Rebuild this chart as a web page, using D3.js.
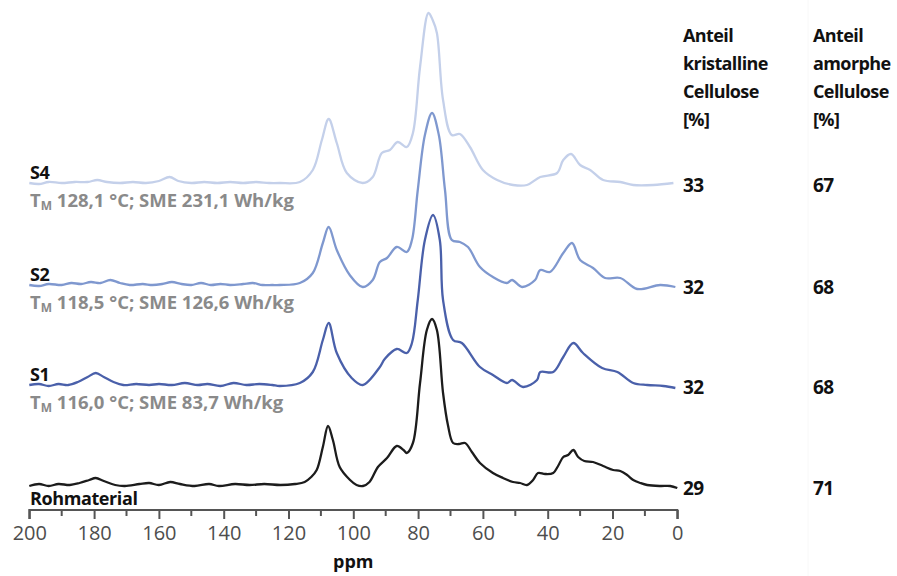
<!DOCTYPE html>
<html><head><meta charset="utf-8">
<script src="https://cdn.jsdelivr.net/npm/d3@7"></script>
<style>
html,body{margin:0;padding:0;background:#fff;}
svg{display:block;}
text{font-family:"Open Sans","Noto Sans",sans-serif;}
</style></head>
<body>
<svg id="chart" width="897" height="576"></svg>
<script>
// ---- data ----
const seriesNames = ["Rohmaterial", "S1", "S2", "S4"];
const seriesNotes = ["", "116,0 °C; SME 83,7 Wh/kg", "118,5 °C; SME 126,6 Wh/kg", "128,1 °C; SME 231,1 Wh/kg"];
const seriesOffsets = [0, 101, 201, 303];
const crystalline = [29, 32, 32, 33];
const amorphous = [71, 68, 68, 67];
const xTicks = [200, 180, 160, 140, 120, 100, 80, 60, 40, 20, 0];
const headerCryst = ["Anteil", "kristalline", "Cellulose", "[%]"];
const headerAmorph = ["Anteil", "amorphe", "Cellulose", "[%]"];

const specRoh = [[200,1],[197,3],[194,1],[191,3],[187.5,2],[184.5,4],[181.5,7],[179.5,9],[177,6],[173.5,2],[170.5,1],[166,3],[163,4],[160,2],[156.5,5],[153.5,3],[149,1],[144.5,3],[141.5,1],[136.5,3],[132,2],[127.5,3],[122.5,2],[118,3],[115,5],[113,10],[111.3,17],[109.4,40],[107.8,61],[106.3,47],[104.2,20],[101,7],[99,2],[97,1],[95,5],[92.4,20],[89.6,29],[86.6,41],[84.5,37],[83.5,34],[81.6,44],[79.4,104],[77.3,157],[75.7,168],[74.2,157],[72.3,94],[70.8,62],[69.2,44],[67.4,43],[65.5,44],[63.4,35],[60.9,24],[56.9,14],[53.8,9],[50.7,5],[48.5,4],[46.4,2],[44.5,7],[43,14],[40.8,13],[38.3,14],[36.8,21],[35.2,30],[33.7,32],[32.1,37],[30.6,30],[28.7,26],[26,25],[22.9,21],[19.8,17],[17.6,16],[15.5,12],[13.6,7],[11.4,4],[9.3,2],[5.3,1],[2.2,1],[0,-1]];
const specS1 = [[200,1],[197,2],[194,0],[191,2],[188,1],[185,4],[182,9],[179.5,13],[177,9],[174,4],[171,1],[167,2],[163,1],[160,2],[156,1],[152,3],[148,1],[145,2],[141,0],[137,3],[133,1],[129,2],[125,1],[122.7,0],[116.5,3],[112.5,14],[109.4,46],[107.6,63],[105.1,33],[100.5,8],[97.1,1],[91.8,19],[90.3,27],[86.6,37],[83.5,33],[81.9,43],[80.1,86],[77.9,146],[75.4,171],[73.3,146],[72.3,86],[69.2,46],[66.5,43],[60.9,19],[56.9,11],[52.6,3],[51,6],[47.6,-1],[43.3,6],[42.3,14],[38.3,14],[35.2,29],[32.1,43],[29.1,33],[23.2,18],[18.5,14],[13.6,3],[9.3,1],[4.3,0],[0.6,-2]];
const specS2 = [[200,1],[197,0],[194,2],[190,1],[187,3],[184,2],[181,4],[178,3],[175,6],[172,3],[169,1],[165,2],[162,1],[159,2],[156,4],[153,2],[150,1],[147,3],[144,1],[141,2],[138,1],[134,2],[131,3],[128,1],[125,1],[122.7,1],[116.5,3],[112.5,13],[109.4,43],[107.6,59],[105.1,36],[101.1,11],[97.1,-1],[94,6],[91.8,24],[89.6,28],[86.6,39],[83.5,34],[81.9,46],[80.1,96],[77.9,151],[75.7,173],[73.6,151],[71.7,96],[69.6,46],[67.1,44],[64.6,39],[60.9,19],[56.9,9],[52.6,3],[51,6],[47.9,-1],[43.9,6],[42.3,16],[39.3,14],[35.2,33],[32.5,43],[30,26],[26,18],[22.3,8],[17.6,8],[12.4,-3],[5.3,1],[0.6,-1]];
const specS4 = [[200,1],[197,0],[194,2],[190,1],[186,2],[182,2],[179,4],[176,2],[172,1],[168,2],[164,1],[160,3],[156.7,7],[154,3],[150,1],[146,2],[142,1],[138,2],[134,1],[130,2],[126,1],[122.7,1],[116.5,2],[112.5,14],[109.7,44],[107.6,65],[105.1,41],[102,11],[97.1,1],[94,7],[91.2,31],[88.7,34],[86.3,42],[83.5,37],[81.6,51],[79.4,117],[76.8,171],[75.5,164],[74.2,151],[72.3,84],[69.6,49],[67.1,50],[64,37],[60,14],[55.6,4],[50.7,-1],[46.4,-1],[42.3,7],[37.1,11],[35.2,24],[32.8,30],[30,19],[26.9,14],[22.9,4],[17.6,2],[13.6,-1],[7.4,-1],[1.2,1]];
const spectra = [specRoh, specS1, specS2, specS4];
const seriesColors = ["#1c1c1c", "#4a60aa", "#7f98cf", "#c4d0ea"];

// ---- drawing ----
const svg = d3.select("#chart");
const x = d3.scaleLinear().domain([200, 0]).range([29.3, 677.3]);
const y = d3.scaleLinear().domain([0, 500]).range([487, -13]);

const line = d3.line()
  .x(d => x(d[0]))
  .curve(d3.curveCatmullRom.alpha(0.5));

// faint column separator
svg.append("line").attr("x1", 808).attr("x2", 808).attr("y1", 0).attr("y2", 576)
  .attr("stroke", "#f8f8f8").attr("stroke-width", 1);

// spectra (draw top ones first so lower ones overlay)
for (let i = spectra.length - 1; i >= 0; i--) {
  const off = seriesOffsets[i];
  svg.append("path")
    .datum(spectra[i])
    .attr("fill", "none")
    .attr("stroke", seriesColors[i])
    .attr("stroke-width", 2.3)
    .attr("stroke-linejoin", "round")
    .attr("d", line.y(d => y(d[1] + off)));
}

// axis
const axisG = svg.append("g").attr("transform", "translate(0,510)");
const axis = d3.axisBottom(x).tickValues(xTicks).tickSize(9).tickPadding(6).tickFormat(d3.format("d"));
axisG.call(axis);
axisG.select(".domain").attr("stroke", "#555").attr("stroke-width", 2).attr("d", `M${x(200)},9V0H${x(0)}V9`);
axisG.selectAll(".tick line").attr("stroke", "#555").attr("stroke-width", 2);
axisG.selectAll(".tick text").attr("font-size", 20).attr("fill", "#4d4d4d")
  .attr("font-family", "'Open Sans', sans-serif").attr("dy", "0.75em");
const minor = d3.range(190, 0, -20);
axisG.selectAll(".minor").data(minor).enter().append("line")
  .attr("x1", d => x(d)).attr("x2", d => x(d)).attr("y1", 0).attr("y2", 6)
  .attr("stroke", "#555").attr("stroke-width", 2);

svg.append("text").attr("x", x(100)).attr("y", 568).attr("text-anchor", "middle")
  .attr("font-size", 18).attr("font-weight", 700).attr("fill", "#111").text("ppm");

// series labels
const labelDy = [18, -5, -5, -5];
seriesNames.forEach((n, i) => {
  const by = y(seriesOffsets[i]);
  svg.append("text").attr("x", 30).attr("y", by + labelDy[i])
    .attr("font-size", 18).attr("font-weight", 700).attr("fill", "#111")
    .attr("letter-spacing", -0.4).text(n);
  if (seriesNotes[i]) {
    const t = svg.append("text").attr("x", 30).attr("y", by + 23)
      .attr("font-size", 18.5).attr("font-weight", 700).attr("fill", "#8a8a8a")
      .attr("letter-spacing", 0);
    t.append("tspan").text("T");
    t.append("tspan").attr("font-size", 12).attr("dy", 3).text("M");
    t.append("tspan").attr("dy", -3).text(" " + seriesNotes[i]);
  }
});

// right columns
const colX = [683, 813];
[headerCryst, headerAmorph].forEach((h, c) => {
  h.forEach((s, k) => {
    svg.append("text").attr("x", colX[c]).attr("y", 42 + k * 28)
      .attr("font-size", 18).attr("font-weight", 700).attr("fill", "#111")
      .attr("letter-spacing", -0.6).text(s);
  });
});
crystalline.forEach((v, i) => {
  const by = y(seriesOffsets[i]) + 8;
  svg.append("text").attr("x", colX[0]).attr("y", by).attr("font-size", 19)
    .attr("font-weight", 700).attr("fill", "#111").attr("letter-spacing", -0.5).text(v);
  svg.append("text").attr("x", colX[1]).attr("y", by).attr("font-size", 19)
    .attr("font-weight", 700).attr("fill", "#111").attr("letter-spacing", -0.5).text(amorphous[i]);
});
</script>
</body></html>
